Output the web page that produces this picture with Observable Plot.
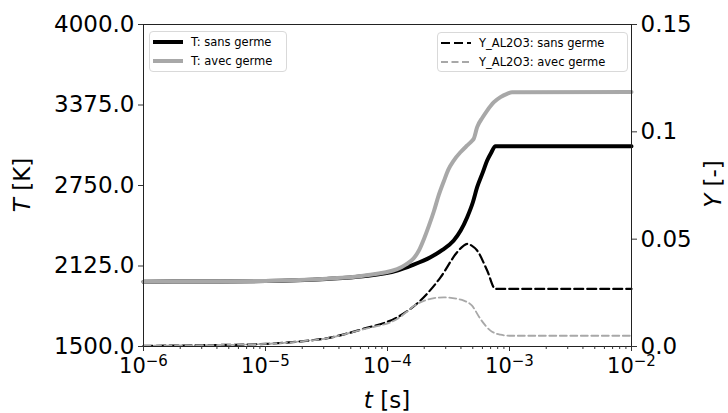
<!DOCTYPE html>
<html><head><meta charset="utf-8">
<script src="https://cdn.jsdelivr.net/npm/d3@7"></script>
<script src="https://cdn.jsdelivr.net/npm/@observablehq/plot@0.6"></script>
<style>
body{margin:0;background:#fff;}
#wrap{position:relative;width:728px;height:413px;font-family:"DejaVu Sans",sans-serif;overflow:hidden;}
.lab{position:absolute;font-size:23px;color:#000;white-space:nowrap;transform:translate(-50%,-50%);}
.rot{transform:translate(-50%,-50%) rotate(-90deg);}
.legend{position:absolute;border:1px solid #d9d9d9;border-radius:4px;background:rgba(255,255,255,0.85);font-size:11.5px;color:#000;box-sizing:border-box;}
.row{position:absolute;left:0;height:19px;display:flex;align-items:center;white-space:nowrap;}
.row svg{margin-left:3px;margin-right:8px;}
</style></head>
<body><div id="wrap"></div>
<script>
// ---- data ----
const tSans = [1e-6, 3.16e-6, 1e-5, 3.16e-5, 6.31e-5, 1.20e-4, 1.58e-4, 2.25e-4, 2.82e-4, 3.49e-4, 3.98e-4, 4.50e-4, 5.01e-4, 5.43e-4, 6.03e-4, 6.56e-4, 7.08e-4, 7.67e-4, 1e-2];
const TSans = [2003, 2005, 2008, 2024, 2045, 2090, 2130, 2193, 2250, 2323, 2400, 2504, 2620, 2737, 2850, 2944, 3005, 3055, 3055];

const tAvec = [1e-6, 3.16e-6, 1e-5, 3.16e-5, 6.31e-5, 1.20e-4, 1.41e-4, 1.64e-4, 1.82e-4, 1.99e-4, 2.19e-4, 2.40e-4, 2.63e-4, 2.90e-4, 3.16e-4, 3.49e-4, 3.98e-4, 4.50e-4, 4.90e-4, 5.09e-4, 5.43e-4, 6.03e-4, 6.56e-4, 7.41e-4, 8.43e-4, 9.55e-4, 1.05e-3, 1e-2];
const TAvec = [2003, 2005, 2009, 2026, 2050, 2100, 2135, 2185, 2250, 2335, 2440, 2550, 2675, 2785, 2875, 2944, 3010, 3061, 3095, 3113, 3203, 3280, 3332, 3395, 3436, 3462, 3474, 3476];

const tYSans = [1e-6, 3.16e-6, 1e-5, 1.78e-5, 3.16e-5, 6.31e-5, 1.20e-4, 1.86e-4, 2.72e-4, 3.72e-4, 4.17e-4, 4.50e-4, 4.90e-4, 5.43e-4, 6.56e-4, 7.67e-4, 1e-2];
const YSans = [0.0003, 0.0006, 0.0012, 0.0022, 0.0038, 0.0082, 0.0136, 0.0214, 0.0322, 0.0439, 0.0468, 0.0478, 0.0470, 0.0447, 0.0354, 0.0268, 0.0268];

const tYAvec = [1e-6, 3.16e-6, 1e-5, 1.78e-5, 3.16e-5, 6.31e-5, 1.20e-4, 1.75e-4, 2.25e-4, 2.90e-4, 3.72e-4, 4.22e-4, 4.93e-4, 5.78e-4, 6.98e-4, 8.43e-4, 1.0e-3, 1e-2];
const YAvec = [0.0003, 0.0006, 0.0012, 0.0022, 0.0038, 0.0080, 0.0128, 0.0198, 0.0222, 0.0229, 0.0222, 0.0214, 0.0190, 0.0128, 0.0074, 0.0055, 0.0050, 0.0050];

const xMajor = [1e-6, 1e-5, 1e-4, 1e-3, 1e-2];
const xMajorExp = ["−6", "−5", "−4", "−3", "−2"];
const xMinorMult = [2, 3, 4, 5, 6, 7, 8, 9];
const TTicks = [1500, 2125, 2750, 3375, 4000];
const YTicks = [0, 0.05, 0.1, 0.15];
const YTickLabels = ["0.0", "0.05", "0.1", "0.15"];
const TDomain = [1500, 4000];
const YDomain = [0, 0.15];

const seriesNames = ["T: sans germe", "T: avec germe", "Y_AL2O3: sans germe", "Y_AL2O3: avec germe"];

// ---- helpers ----
const yToT = y => TDomain[0] + (y - YDomain[0]) * (TDomain[1] - TDomain[0]) / (YDomain[1] - YDomain[0]);
const xMinor = xMajor.slice(0, -1).flatMap(d => xMinorMult.map(m => m * d));
const rows = (ts, vs) => ts.map((t, i) => ({t, v: vs[i]}));

const GRAY = "#a8a8a8";
const chart = Plot.plot({
  width: 728, height: 413,
  marginLeft: 143, marginRight: 97, marginTop: 24, marginBottom: 67,
  x: {type: "log", domain: [1e-6, 1e-2]},
  y: {domain: TDomain},
  style: {fontFamily: "DejaVu Sans", fontSize: "23px", color: "#000", background: "transparent"},
  marks: [
    Plot.line(rows(tSans, TSans), {x: "t", y: "v", stroke: "#000", strokeWidth: 4, curve: "monotone-x"}),
    Plot.line(rows(tAvec, TAvec), {x: "t", y: "v", stroke: GRAY, strokeWidth: 4, curve: "monotone-x"}),
    Plot.line(rows(tYSans, YSans), {x: "t", y: d => yToT(d.v), stroke: "#000", strokeWidth: 2.2, strokeDasharray: "9,4", curve: "monotone-x"}),
    Plot.line(rows(tYAvec, YAvec), {x: "t", y: d => yToT(d.v), stroke: GRAY, strokeWidth: 1.8, strokeDasharray: "7,3.5", curve: "monotone-x"}),
    Plot.frame({stroke: "#222", strokeWidth: 1}),
    Plot.axisX({ticks: xMinor, tickSize: 3, tickFormat: () => "", label: null, stroke: "#333"}),
    Plot.axisX({ticks: xMajor, tickSize: 5, tickPadding: 7, fontSize: 21, tickFormat: d => "10" + xMajorExp[xMajor.indexOf(d)], label: null, stroke: "#333"}),
    Plot.axisY({ticks: TTicks, tickSize: 5, tickPadding: 4, tickFormat: d => d.toFixed(1), label: null, stroke: "#333"}),
    Plot.axisY({anchor: "right", ticks: YTicks.map(yToT), tickSize: 5, tickPadding: 4, tickFormat: d => YTickLabels[YTicks.map(yToT).indexOf(d)], label: null, stroke: "#333"})
  ]
});

// superscripts for x tick labels
d3.select(chart).selectAll("text").each(function() {
  const s = this.textContent;
  const i = xMajorExp.findIndex(e => s === "10" + e);
  if (i >= 0) {
    const el = d3.select(this);
    el.text("");
    el.append("tspan").text("10");
    el.append("tspan").attr("dy", "-0.5em").attr("font-size", "15px").text(xMajorExp[i]);
  }
});

const wrap = document.getElementById("wrap");
wrap.appendChild(chart);

function addLabel(html, x, y, rot) {
  const d = document.createElement("div");
  d.className = "lab" + (rot ? " rot" : "");
  d.style.left = x + "px"; d.style.top = y + "px";
  d.innerHTML = html;
  wrap.appendChild(d);
}
addLabel("<i>T</i> [K]", 22, 185, true);
addLabel("<i>Y</i> [-]", 713, 184, true);
addLabel("<i>t</i> [s]", 387, 400, false);

function addLegend(left, top, width, height, entries) {
  const box = document.createElement("div");
  box.className = "legend";
  Object.assign(box.style, {left: left + "px", top: top + "px", width: width + "px", height: height + "px"});
  entries.forEach((e, i) => {
    const r = document.createElement("div");
    r.className = "row";
    r.style.top = (i * 19.5) + "px";
    r.innerHTML = `<svg width="30" height="8"><line x1="0" x2="30" y1="4" y2="4" stroke="${e.color}" stroke-width="${e.w}" ${e.dash ? `stroke-dasharray="${e.dash}"` : ""}/></svg><span>${e.label}</span>`;
    box.appendChild(r);
  });
  wrap.appendChild(box);
}
addLegend(149, 31, 138, 41, [
  {label: seriesNames[0], color: "#000", w: 4},
  {label: seriesNames[1], color: GRAY, w: 4}
]);
addLegend(437, 32, 191, 40, [
  {label: seriesNames[2], color: "#000", w: 2.2, dash: "9,4"},
  {label: seriesNames[3], color: GRAY, w: 1.8, dash: "7,3.5"}
]);
</script></body></html>
